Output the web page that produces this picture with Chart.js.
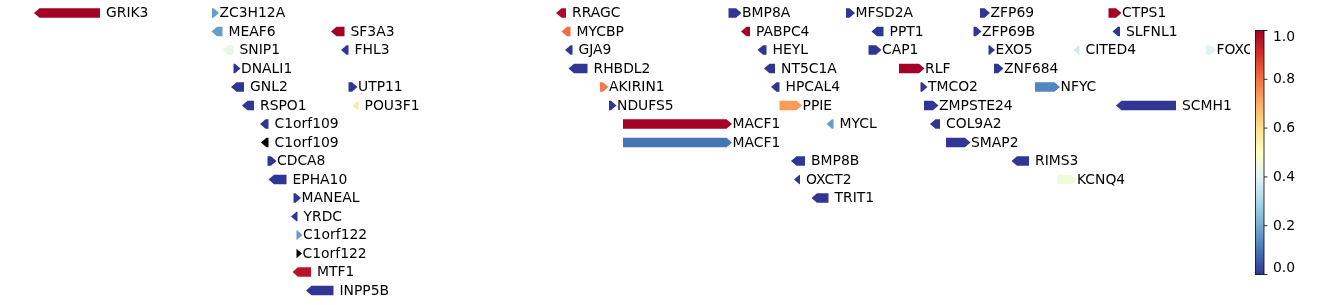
<!DOCTYPE html>
<html>
<head>
<meta charset="utf-8">
<script src="https://cdn.jsdelivr.net/npm/chart.js@4"></script>
<style>
    body { margin: 0; background: #ffffff; }
    canvas { display: block; }
</style>
</head>
<body>
<canvas id="myGraph" width="1338" height="305"></canvas>
<script>
"use strict";

// gene track data (layout position units, row index, strand, score)
const genes = ["GRIK3", "ZC3H12A", "MEAF6", "SF3A3", "SNIP1", "FHL3", "DNALI1", "GNL2", "UTP11", "RSPO1",
    "POU3F1", "C1orf109", "C1orf109", "CDCA8", "EPHA10", "MANEAL", "YRDC", "C1orf122", "C1orf122", "MTF1",
    "INPP5B", "RRAGC", "MYCBP", "GJA9", "RHBDL2", "AKIRIN1", "NDUFS5", "MACF1", "MACF1", "BMP8A",
    "PABPC4", "HEYL", "NT5C1A", "HPCAL4", "PPIE", "MYCL", "MFSD2A", "PPT1", "CAP1", "RLF",
    "BMP8B", "OXCT2", "TRIT1", "ZFP69", "ZFP69B", "EXO5", "ZNF684", "TMCO2", "NFYC", "ZMPSTE24",
    "SCMH1", "COL9A2", "SMAP2", "CTPS1", "SLFNL1", "CITED4", "FOXO6", "RIMS3", "KCNQ4"];
const starts = [39.5, 212, 217, 336.5, 228, 346.5, 233.5, 236.5, 348.5, 247.5,
    358, 265.5, 266.5, 267.5, 274, 293.5, 296.5, 296.5, 296.5, 298,
    311.5, 561.5, 567, 570.5, 574, 600, 609, 623, 623, 728.5,
    746.5, 763, 769.5, 776.5, 779.5, 832, 846, 877, 868.5, 899,
    796.5, 799.5, 817, 980, 973.5, 988.5, 994, 920.5, 1035, 924,
    1121.5, 935.5, 946, 1108.5, 1118, 1079, 1206, 1017, 1057.5];
const ends = [100, 213.5, 222.5, 344.5, 233.5, 348.5, 235, 244, 352, 254,
    358.5, 268.5, 268.5, 271, 286.5, 295.5, 297.5, 297, 296.5, 311,
    333.5, 566, 570.5, 572.5, 587.5, 603, 611, 726.5, 726.5, 736,
    750, 766.5, 775, 779.5, 796.5, 833.5, 849.5, 883.5, 876, 919,
    805, 800, 828.5, 984.5, 976, 989.5, 998, 922, 1054.5, 933,
    1176, 940, 965, 1116, 1120, 1079.5, 1210.5, 1029, 1071];
const strands = ["-", "+", "-", "-", "-", "-", "+", "-", "+", "-",
    "-", "-", "-", "+", "-", "+", "-", "+", "+", "-",
    "-", "-", "-", "-", "-", "+", "+", "+", "+", "+",
    "-", "-", "-", "-", "+", "-", "+", "-", "+", "+",
    "-", "-", "-", "+", "+", "+", "+", "+", "+", "+",
    "-", "-", "+", "+", "-", "-", "+", "-", "+"];
const rows = [0, 0, 1, 1, 2, 2, 3, 4, 4, 5,
    5, 6, 7, 8, 9, 10, 11, 12, 13, 14,
    15, 0, 1, 2, 3, 4, 5, 6, 7, 0,
    1, 2, 3, 4, 5, 6, 0, 1, 2, 3,
    8, 9, 10, 0, 1, 2, 3, 4, 4, 5,
    5, 6, 7, 0, 1, 2, 2, 8, 9];
// null = no score (drawn black)
const scores = [1.0, 0.17, 0.17, 1.0, 0.43, 0.0, 0.0, 0.0, 0.0, 0.0,
    0.57, 0.0, null, 0.0, 0.0, 0.0, 0.0, 0.17, null, 0.96,
    0.0, 0.98, 0.8, 0.0, 0.0, 0.78, 0.0, 1.0, 0.1, 0.0,
    1.0, 0.0, 0.0, 0.0, 0.73, 0.17, 0.0, 0.0, 0.0, 1.0,
    0.0, 0.0, 0.0, 0.0, 0.0, 0.0, 0.0, 0.0, 0.13, 0.0,
    0.0, 0.0, 0.0, 1.0, 0.0, 0.37, 0.4, 0.0, 0.45];

const colorbarTicks = [0.0, 0.2, 0.4, 0.6, 0.8, 1.0];

// RdYlBu_r colour stops
const cmapStops = ["#313695", "#4575b4", "#74add1", "#abd9e9", "#e0f3f8", "#ffffbf",
    "#fee090", "#fdae61", "#f46d43", "#d73027", "#a50026"];

const FONT = "13.9px 'DejaVu Sans'";
const HEAD = 5.5;
const HALF = 4.75;

function hexToRgb(h) {
    return [parseInt(h.slice(1, 3), 16), parseInt(h.slice(3, 5), 16), parseInt(h.slice(5, 7), 16)];
}

function cmap(v) {
    if (v === null) {
        return "#000000";
    }
    let t = Math.max(0, Math.min(1, v)) * (cmapStops.length - 1);
    let i = Math.min(Math.floor(t), cmapStops.length - 2);
    let f = t - i;
    let a = hexToRgb(cmapStops[i]);
    let b = hexToRgb(cmapStops[i + 1]);
    let c = a.map((x, k) => Math.round(x + (b[k] - x) * f));
    return `rgb(${c[0]}, ${c[1]}, ${c[2]})`;
}

const points = [];
for (let i = 0; i < genes.length; i++) {
    points.push({ x: starts[i], y: rows[i] });
}

const geneArrows = {
    id: "geneArrows",
    afterDatasetsDraw(chart) {
        const ctx = chart.ctx;
        const xs = chart.scales.x;
        const ys = chart.scales.y;
        const area = chart.chartArea;
        ctx.save();
        ctx.beginPath();
        ctx.rect(area.left, area.top, area.right - area.left, area.bottom - area.top);
        ctx.clip();
        for (let i = 0; i < genes.length; i++) {
            let x0 = xs.getPixelForValue(starts[i]);
            let x1 = xs.getPixelForValue(ends[i]);
            let y = ys.getPixelForValue(rows[i]);
            ctx.fillStyle = cmap(scores[i]);
            ctx.beginPath();
            if (strands[i] === "+") {
                ctx.moveTo(x0, y - HALF);
                ctx.lineTo(x1, y - HALF);
                ctx.lineTo(x1 + HEAD, y);
                ctx.lineTo(x1, y + HALF);
                ctx.lineTo(x0, y + HALF);
            } else {
                ctx.moveTo(x1, y - HALF);
                ctx.lineTo(x0, y - HALF);
                ctx.lineTo(x0 - HEAD, y);
                ctx.lineTo(x0, y + HALF);
                ctx.lineTo(x1, y + HALF);
            }
            ctx.closePath();
            ctx.fill();

            ctx.fillStyle = "#000000";
            ctx.font = FONT;
            ctx.textAlign = "left";
            ctx.textBaseline = "middle";
            ctx.fillText(genes[i], x1 + HEAD + 0.5, y + 0.5);
        }
        ctx.restore();
    },
    afterDraw(chart) {
        // colorbar
        const ctx = chart.ctx;
        let left = 1255.5, right = 1264, top = 30.5, bottom = 274.5;
        let grad = ctx.createLinearGradient(0, bottom, 0, top);
        cmapStops.forEach((c, k) => grad.addColorStop(k / (cmapStops.length - 1), c));
        ctx.save();
        ctx.fillStyle = grad;
        ctx.fillRect(left, top, right - left, bottom - top);
        ctx.strokeStyle = "#000000";
        ctx.lineWidth = 0.8;
        ctx.strokeRect(left, top, right - left, bottom - top);
        ctx.fillStyle = "#000000";
        ctx.font = FONT;
        ctx.textAlign = "left";
        ctx.textBaseline = "middle";
        for (let k = 0; k < colorbarTicks.length; k++) {
            let v = colorbarTicks[k];
            let ty = bottom - v * (bottom - top);
            ctx.beginPath();
            ctx.moveTo(right, ty);
            ctx.lineTo(right + 3.5, ty);
            ctx.stroke();
            let ly = ty;
            if (k === 0) ly = ty - 7;
            if (k === colorbarTicks.length - 1) ly = ty + 6.5;
            ctx.fillText(v.toFixed(1), right + 9, ly + 0.5);
        }
        ctx.restore();
    }
};

const config = {
    type: "scatter",
    data: {
        datasets: [
            {
                data: points,
                pointRadius: 0,
                pointHoverRadius: 0,
            },
        ],
    },
    options: {
        responsive: false,
        animation: false,
        devicePixelRatio: 1,
        layout: { padding: { left: 0, right: 88, top: 0, bottom: 0 } },
        plugins: {
            legend: { display: false },
            tooltip: { enabled: false },
        },
        scales: {
            x: { type: "linear", display: false, min: 0, max: 1250 },
            y: { type: "linear", display: false, min: -0.7027, max: 15.784, reverse: true },
        },
    },
    plugins: [geneArrows],
};

const canvasChart = document.getElementById("myGraph");
new Chart(canvasChart, config);
</script>
</body>
</html>
